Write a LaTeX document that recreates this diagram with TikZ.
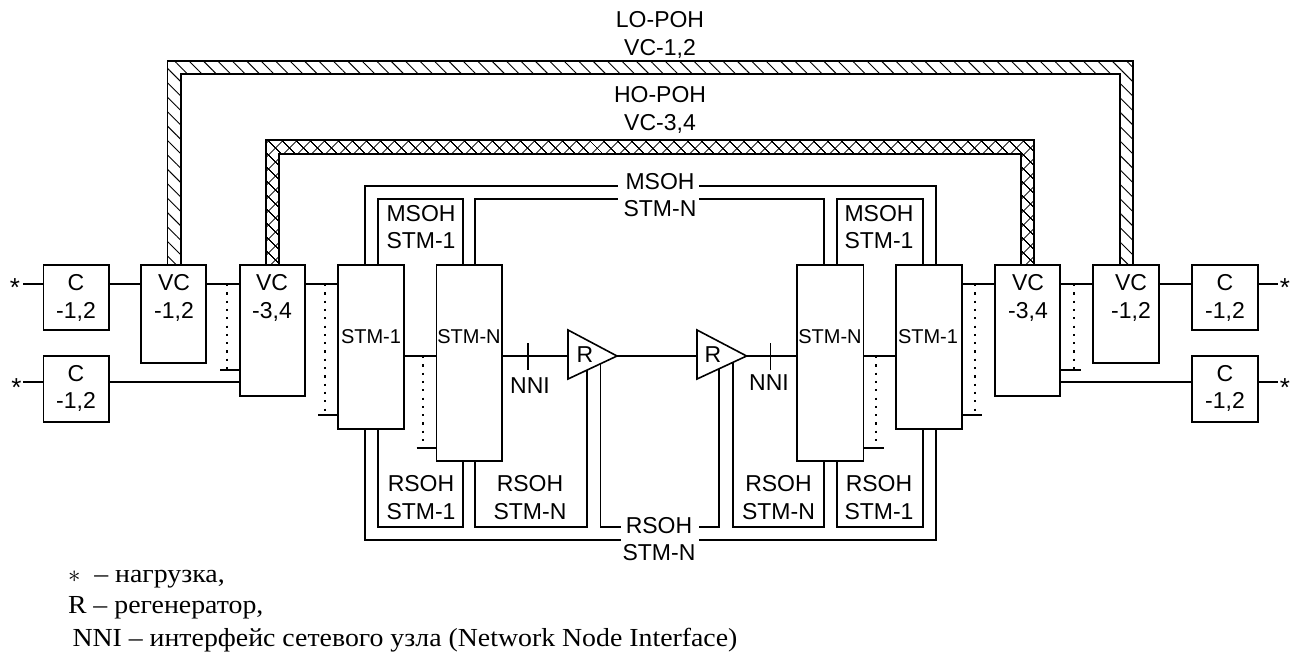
\documentclass[tikz,border=0pt]{standalone}
\usepackage{fontspec}
\setmainfont{Liberation Sans}
\newfontfamily\serifnote[FakeStretch=1.07]{Liberation Serif}
\usetikzlibrary{patterns.meta}
\tikzset{
  x=1pt,y=-1pt,
  ln/.style={line width=1.6pt,line join=miter},
  blk/.style={draw,line width=1.6pt,fill=white,inner sep=0pt,outer sep=0pt},
  txt/.style={inner sep=0pt,outer sep=0pt,align=center,font=\fontsize{23}{27.2}\selectfont},
  startxt/.style={inner sep=0pt,outer sep=0pt,font=\fontsize{26}{27}\selectfont},
  stmtxt/.style={inner sep=0pt,outer sep=0pt,font=\fontsize{20}{24}\selectfont},
  dotln/.style={line width=2.2pt,dash pattern=on 2.2pt off 6.1pt},
  note/.style={inner sep=0pt,outer sep=0pt,anchor=base west,font=\serifnote\fontsize{26}{27}\selectfont},
  hatch/.style={draw,line width=1.6pt,pattern={Lines[angle=-45,distance=10.2pt,line width=.95pt]}},
  cross/.style={draw,line width=1.6pt,pattern={Hatch[angle=45,distance=10.5pt,line width=.95pt]}},
}
\newcommand{\boxat}[5]{\node[blk,minimum width=#3pt-#2pt,minimum height=#5pt-#4pt,anchor=north west] (#1) at (#2,#4) {};}
\begin{document}
\begin{tikzpicture}
\useasboundingbox (0,0) rectangle (1298,651);
% levels and columns
\coordinate (yhi) at (0,284);
\coordinate (ymid) at (0,356);
\coordinate (ylo) at (0,382);
\coordinate (yt1) at (0,370);
\coordinate (yt2) at (0,415);
\coordinate (yt3) at (0,448);
\coordinate (ym1) at (0,186);
\coordinate (ym2) at (0,199);
\coordinate (yr1) at (0,527);
\coordinate (yr2) at (0,540);
\coordinate (xa) at (365,0);
\coordinate (xb) at (378,0);
\coordinate (xc) at (463,0);
\coordinate (xd) at (475,0);
\coordinate (xe) at (587,0);
\coordinate (xf) at (600.6,0);
\coordinate (xg) at (719,0);
\coordinate (xh) at (733,0);
\coordinate (xi) at (824,0);
\coordinate (xj) at (837,0);
\coordinate (xk) at (923,0);
\coordinate (xl) at (936,0);
\coordinate (xdl) at (226.7,0);
\coordinate (xd2) at (325,0);
\coordinate (xd3) at (423,0);
\coordinate (xd4) at (876,0);
\coordinate (xd5) at (975,0);
\coordinate (xd6) at (1073.6,0);
\coordinate (gml) at (618,0);
\coordinate (gmr) at (699,0);
\coordinate (grl) at (620.5,0);
% free ends
\coordinate (sl1) at (23,284);
\coordinate (sl2) at (23,382);
\coordinate (sr1) at (1278,284);
\coordinate (sr2) at (1278,382);
\coordinate (t1l) at (220,370);
\coordinate (t2l) at (318,415);
\coordinate (t3l) at (416.6,448);
\coordinate (t3r) at (884,448);
\coordinate (t2r) at (982,415);
\coordinate (t1r) at (1080.7,370);
\coordinate (nlt) at (527.7,343);
\coordinate (nlb) at (527.7,370);
\coordinate (nrt) at (770.6,343);
\coordinate (nrb) at (770.6,370);
% triangle vertices
\coordinate (tla) at (568,330);
\coordinate (tlb) at (568,379);
\coordinate (tlc) at (617,356);
\coordinate (tra) at (697,330);
\coordinate (trb) at (697,379);
\coordinate (trc) at (746.6,356);
% overhead bands
\draw[hatch] (167.5,265) -- (167.5,61) -- (1133,61) -- (1133,265) -- (1120,265) -- (1120,74) -- (181,74) -- (181,265) -- cycle;
\draw[cross] (266,265) -- (266,140) -- (1034,140) -- (1034,265) -- (1021,265) -- (1021,154) -- (279,154) -- (279,265) -- cycle;
% blocks
\boxat{cl1}{43.5}{109}{265}{330}
\boxat{cl2}{43.5}{109}{356}{422}
\boxat{vl1}{141}{206}{265}{363}
\boxat{vl3}{240}{305}{265}{396}
\boxat{sl}{338}{404}{265}{429}
\boxat{nl}{436.5}{502}{265}{461}
\boxat{nr}{797}{863.5}{265}{461}
\boxat{sr}{896}{962}{265}{429}
\boxat{vr3}{995}{1060}{265}{396}
\boxat{vr1}{1093}{1159}{265}{363}
\boxat{cr1}{1192}{1258}{265}{330}
\boxat{cr2}{1192}{1258}{356}{422}
% horizontal links
\draw[ln] (sl1) -- (cl1.west |- yhi);
\draw[ln] (cl1.east |- yhi) -- (vl1.west |- yhi);
\draw[ln] (vl1.east |- yhi) -- (vl3.west |- yhi);
\draw[ln] (vl3.east |- yhi) -- (sl.west |- yhi);
\draw[ln] (sr.east |- yhi) -- (vr3.west |- yhi);
\draw[ln] (vr3.east |- yhi) -- (vr1.west |- yhi);
\draw[ln] (vr1.east |- yhi) -- (cr1.west |- yhi);
\draw[ln] (cr1.east |- yhi) -- (sr1);
\draw[ln] (sl2) -- (cl2.west |- ylo);
\draw[ln] (cl2.east |- ylo) -- (vl3.west |- ylo);
\draw[ln] (vr3.east |- ylo) -- (cr2.west |- ylo);
\draw[ln] (cr2.east |- ylo) -- (sr2);
\draw[ln] (sl.east |- ymid) -- (nl.west |- ymid);
\draw[ln] (nl.east |- ymid) -- (tlb |- ymid);
\draw[ln] (tlc) -- (tra |- ymid);
\draw[ln] (trc) -- (nr.west |- ymid);
\draw[ln] (nr.east |- ymid) -- (sr.west |- ymid);
\draw[ln] (nlt) -- (nlb);
\draw[ln] (nrt) -- (nrb);
% dotted branches
\draw[dotln] (xdl |- yhi) -- (xdl |- yt1);
\draw[dotln] (xd2 |- yhi) -- (xd2 |- yt2);
\draw[dotln] (xd3 |- ymid) -- (xd3 |- yt3);
\draw[dotln] (xd4 |- ymid) -- (xd4 |- yt3);
\draw[dotln] (xd5 |- yhi) -- (xd5 |- yt2);
\draw[dotln] (xd6 |- yhi) -- (xd6 |- yt1);
\draw[ln] (t1l) -- (vl3.west |- t1l);
\draw[ln] (t2l) -- (sl.west |- t2l);
\draw[ln] (t3l) -- (nl.west |- t3l);
\draw[ln] (nr.east |- t3r) -- (t3r);
\draw[ln] (sr.east |- t2r) -- (t2r);
\draw[ln] (vr3.east |- t1r) -- (t1r);
% overhead section lines, top
\draw[ln] (xa |- sl.north) -- (xa |- ym1) -- (gml |- ym1);
\draw[ln] (gmr |- ym1) -- (xl |- ym1) -- (xl |- sr.north);
\draw[ln] (xd |- nl.north) -- (xd |- ym2) -- (gml |- ym2);
\draw[ln] (gmr |- ym2) -- (xi |- ym2) -- (xi |- nr.north);
\draw[ln] (xb |- sl.north) -- (xb |- ym2) -- (xc |- ym2) -- (xc |- nl.north);
\draw[ln] (xj |- nr.north) -- (xj |- ym2) -- (xk |- ym2) -- (xk |- sr.north);
% overhead section lines, bottom
\draw[ln] (xa |- sl.south) -- (xa |- yr2) -- (grl |- yr2);
\draw[ln] (gmr |- yr2) -- (xl |- yr2) -- (xl |- sr.south);
\draw[ln] (xb |- sl.south) -- (xb |- yr1) -- (xc |- yr1) -- (xc |- nl.south);
\draw[ln] (xj |- nr.south) -- (xj |- yr1) -- (xk |- yr1) -- (xk |- sr.south);
\draw[ln] (xd |- nl.south) -- (xd |- yr1) -- (xe |- yr1) -- (xe |- ymid);
\draw[ln] (xf |- ymid) -- (xf |- yr1) -- (grl |- yr1);
\draw[ln] (gmr |- yr1) -- (xg |- yr1) -- (xg |- ymid);
\draw[ln] (xh |- ymid) -- (xh |- yr1) -- (xi |- yr1) -- (xi |- nr.south);
% regenerators
\draw[blk] (tla) -- (tlc) -- (tlb) -- cycle;
\draw[blk] (tra) -- (trc) -- (trb) -- cycle;
% labels
\node[txt] (lcl1) at (76,298) {C\\-1,2};
\node[txt] (lcl2) at (76,388.5) {C\\-1,2};
\node[txt] (lvl1) at (174,298) {VC\\-1,2};
\node[txt] (lvl3) at (272,298) {VC\\-3,4};
\node[txt] (lvr3) at (1028,298) {VC\\-3,4};
\node[txt] (lvr1) at (1131,298) {VC\\-1,2};
\node[txt] (lcr1) at (1225,298) {C\\-1,2};
\node[txt] (lcr2) at (1225,388.5) {C\\-1,2};
\node[txt] (llo) at (660,35) {LO-POH\\VC-1,2};
\node[txt] (lho) at (660,110) {HO-POH\\VC-3,4};
\node[txt] (lms) at (660,195) {MSOH\\STM-N};
\node[txt] (lrs) at (659,539) {RSOH\\STM-N};
\node[txt] (lm1) at (421,227) {MSOH\\STM-1};
\node[txt] (lm2) at (879,227) {MSOH\\STM-1};
\node[txt] (lr1) at (421,497.5) {RSOH\\STM-1};
\node[txt] (lr2) at (530,497.5) {RSOH\\STM-N};
\node[txt] (lr3) at (778.5,497.5) {RSOH\\STM-N};
\node[txt] (lr4) at (879,497.5) {RSOH\\STM-1};
\node[stmtxt] (ls1) at (371,337) {STM-1};
\node[stmtxt] (ls2) at (469,337) {STM-N};
\node[stmtxt] (ls3) at (830,337) {STM-N};
\node[stmtxt] (ls4) at (928,337) {STM-1};
\node[txt] (lnl) at (530,386) {NNI};
\node[txt] (lnr) at (769,383) {NNI};
\node[txt] (lrl) at (585,355) {R};
\node[txt] (lrr) at (713,355) {R};
\node[startxt] (st1) at (15,288) {*};
\node[startxt] (st2) at (16.5,388) {*};
\node[startxt] (st3) at (1285,288) {*};
\node[startxt] (st4) at (1285,388) {*};
\node[note] (n1) at (68,582) {$*$\ \ – нагрузка,};
\node[note] (n2) at (68,613) {R – регенератор,};
\node[note] (n3) at (72.5,646) {NNI – интерфейс сетевого узла (Network Node Interface)};
\end{tikzpicture}
\end{document}
